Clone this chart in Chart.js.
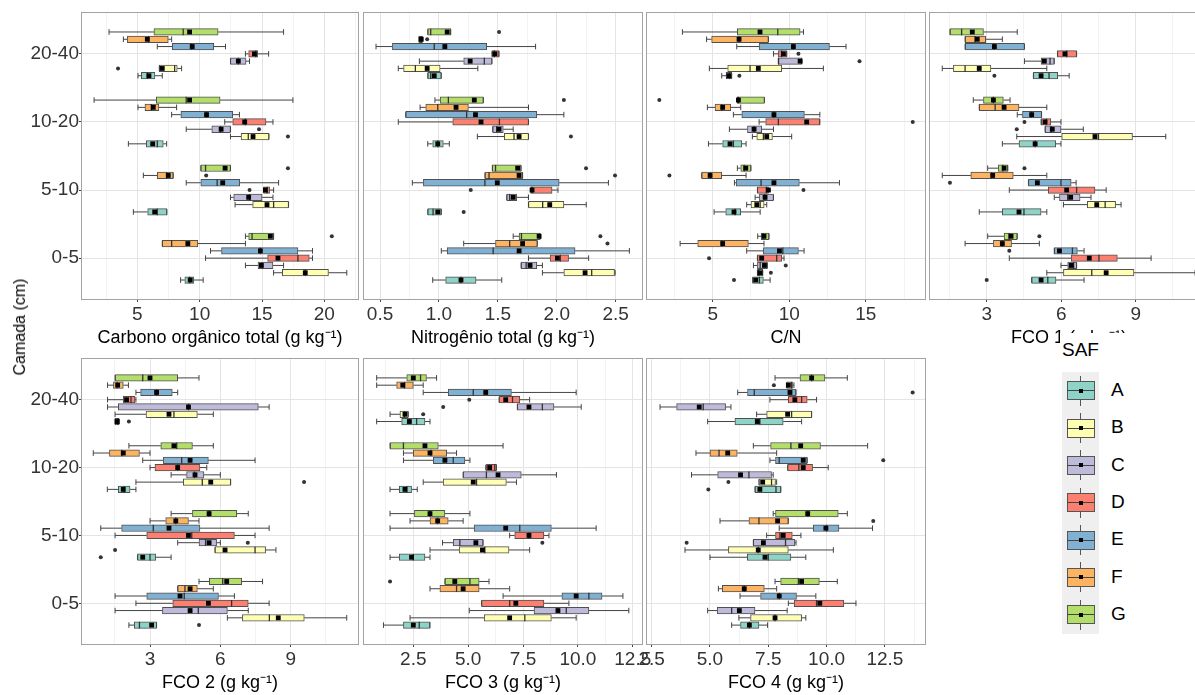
<!DOCTYPE html>
<html lang="pt-br">

<head>
    <meta charset="UTF-8">
    <title>Atributos do solo por SAF e camada</title>
    <script src="https://cdn.jsdelivr.net/npm/chart.js"></script>
    <style>
        body {
            margin: 0;
            width: 1195px;
            height: 695px;
            overflow: hidden;
            position: relative;
            background: #fff;
            font-family: 'Liberation Sans', Arial, sans-serif;
        }

        canvas {
            position: absolute;
        }

        #eixoY {
            position: absolute;
            left: 20px;
            top: 327px;
            transform: translate(-50%, -50%) rotate(-90deg);
            font-size: 16px;
            white-space: nowrap;
            color: #000;
        }

        #legenda {
            position: absolute;
            left: 1060px;
            top: 333px;
            width: 135px;
            height: 304px;
            background: #fff;
        }

        #legenda .titulo {
            position: absolute;
            left: 2px;
            top: 6px;
            font-size: 19px;
        }

        #chaves {
            position: absolute;
            left: 2px;
            top: 39px;
            width: 37px;
            background: #efefef;
        }

        .chave {
            position: relative;
            height: 37.37px;
        }

        .bigode {
            position: absolute;
            left: 18px;
            top: 3.7px;
            width: 1px;
            height: 30px;
            background: #555;
        }

        .caixa {
            position: absolute;
            left: 4.7px;
            top: 9.2px;
            width: 26px;
            height: 17px;
            border: 1px solid #555;
        }

        .mediana {
            position: absolute;
            left: 5px;
            top: 18.2px;
            width: 27px;
            height: 1px;
            background: #444;
        }

        .media {
            position: absolute;
            left: 16.5px;
            top: 16.7px;
            width: 4px;
            height: 4px;
            background: #000;
        }

        .rotulo {
            position: absolute;
            left: 49px;
            top: 7px;
            font-size: 19px;
        }
    </style>
</head>

<body>
    <canvas id="p1"></canvas>
    <canvas id="p2"></canvas>
    <canvas id="p3"></canvas>
    <canvas id="p4"></canvas>
    <canvas id="p5"></canvas>
    <canvas id="p6"></canvas>
    <canvas id="p7"></canvas>
    <div id="eixoY">Camada (cm)</div>
    <div id="legenda">
        <div class="titulo">SAF</div>
        <div id="chaves"></div>
    </div>
</body>
<script>

    const camadas = ['0-5', '5-10', '10-20', '20-40'];
    const saf = ['A', 'B', 'C', 'D', 'E', 'F', 'G'];
    const cores = ['#8DD3C7', '#FFFFB3', '#BEBADA', '#FB8072', '#80B1D3', '#FDB462', '#B3DE69'];

    // cada linha: [min, q1, mediana, q3, max, media] ; camada 0-5, 5-10, 10-20, 20-40 ; SAF A..G
    // atipicos: [camada, saf, valor]

    // Carbono orgânico total
    const cot = [
        [8.47, 8.81, 9.2, 9.53, 10.28, 9.24], [15.93, 16.63, 18.47, 20.33, 21.8, 18.47], [13.67, 14.68, 15.0, 15.88, 16.73, 14.95],
        [10.47, 15.45, 17.88, 18.79, 19.05, 16.28], [10.87, 11.75, 14.87, 17.88, 19.05, 14.87], [7.0, 7.0, 7.75, 9.85, 13.67, 9.05],
        [13.67, 13.93, 14.2, 15.93, 15.93, 15.67],
        [4.68, 5.83, 6.6, 7.37, 7.37, 6.39], [12.84, 14.25, 15.93, 17.13, 17.13, 15.4], [12.47, 12.73, 14.0, 15.0, 15.88, 13.93],
        [15.13, 15.13, 15.4, 15.61, 15.93, 15.27], [8.92, 10.09, 11.4, 13.21, 16.33, 11.85], [5.48, 6.6, 7.35, 7.88, 7.88, 7.48],
        [10.09, 10.09, 10.47, 12.47, 12.47, 12.04],
        [4.28, 5.72, 6.6, 7.08, 7.35, 6.23], [12.47, 13.32, 13.9, 15.56, 15.56, 14.28], [8.92, 10.97, 11.67, 12.47, 12.47, 11.72],
        [12.01, 12.65, 13.67, 15.32, 15.88, 13.61], [7.75, 8.49, 10.55, 12.65, 13.19, 10.55], [5.05, 5.61, 6.12, 6.73, 8.15, 6.28],
        [1.53, 6.52, 8.92, 11.64, 17.48, 9.19],
        [5.05, 5.32, 5.8, 6.41, 7.0, 5.93], [6.76, 6.76, 7.99, 8.2, 8.55, 7.0], [12.47, 12.47, 13.1, 13.72, 14.0, 13.1],
        [13.67, 13.93, 14.5, 14.65, 15.53, 14.39], [6.6, 7.8, 9.35, 11.13, 12.07, 9.4], [3.88, 4.2, 5.9, 7.48, 7.75, 5.8],
        [2.73, 6.33, 8.68, 11.48, 16.73, 9.19]
    ];
    const cotAtip = [[3, 1, 3.45], [2, 2, 14.76], [2, 1, 17.08], [1, 6, 17.08], [1, 5, 10.52], [1, 3, 14.0], [0, 6, 20.6]];

    // Nitrogênio total
    const nt = [
        [0.947, 1.057, 1.187, 1.315, 1.533, 1.187], [1.878, 2.06, 2.296, 2.49, 2.495, 2.24], [1.697, 1.697, 1.74, 1.83, 1.878, 1.773],
        [1.76, 1.943, 2.03, 2.1, 2.27, 2.005], [1.02, 1.07, 1.46, 2.155, 2.616, 1.68], [1.21, 1.48, 1.6, 1.835, 1.835, 1.71],
        [1.63, 1.68, 1.70, 1.86, 1.86, 1.85],
        [0.905, 0.905, 0.95, 1.02, 1.02, 0.99], [1.76, 1.76, 1.88, 2.06, 2.25, 1.94], [1.575, 1.575, 1.6, 1.66, 1.76, 1.63],
        [1.78, 1.78, 1.79, 1.96, 2.01, 1.79], [0.774, 0.868, 1.39, 2.02, 2.438, 1.495], [1.39, 1.39, 1.425, 1.71, 1.71, 1.68],
        [1.453, 1.453, 1.48, 1.697, 1.697, 1.668],
        [0.905, 0.947, 0.99, 1.037, 1.088, 0.99], [1.326, 1.555, 1.637, 1.76, 1.76, 1.68], [1.456, 1.456, 1.49, 1.546, 1.63, 1.51],
        [0.655, 1.117, 1.513, 1.76, 1.76, 1.357], [0.718, 0.718, 1.235, 1.83, 2.06, 1.31], [0.84, 0.888, 0.99, 1.25, 1.76, 1.145],
        [0.966, 1.01, 1.08, 1.377, 1.377, 1.3],
        [0.905, 0.905, 0.93, 1.02, 1.02, 0.96], [0.655, 0.7, 0.8, 1.01, 1.33, 0.9], [0.834, 1.21, 1.385, 1.45, 1.45, 1.265],
        [1.45, 1.45, 1.47, 1.51, 1.51, 1.475], [0.466, 0.605, 0.96, 1.405, 1.82, 1.05], [0.83, 0.83, 0.85, 0.86, 0.86, 0.85],
        [0.905, 0.905, 0.93, 1.1, 1.1, 1.07]
    ];
    const ntAtip = [[3, 6, 1.51], [3, 5, 0.9], [2, 6, 2.06], [2, 1, 2.12], [1, 6, 2.248], [1, 5, 2.494], [1, 3, 1.27], [1, 0, 1.21], [0, 6, 2.37], [0, 5, 2.43]];

    // Relação C/N
    const cn = [
        [7.61, 7.61, 8.05, 8.31, 8.75, 7.81], [7.92, 7.92, 8.0, 8.27, 8.27, 8.09], [7.66, 7.92, 8.1, 8.57, 8.57, 8.38],
        [7.92, 7.92, 9.18, 9.51, 9.66, 8.2], [7.22, 8.31, 9.58, 10.6, 10.97, 9.36], [2.87, 4.02, 5.6, 7.33, 8.35, 5.65],
        [7.94, 8.16, 8.3, 8.68, 8.68, 8.35],
        [5.09, 5.85, 6.46, 6.83, 8.1, 6.39], [7.22, 7.5, 8.1, 8.36, 8.53, 7.88], [7.77, 8.05, 8.4, 8.97, 8.97, 8.42],
        [7.92, 7.92, 8.5, 8.64, 8.64, 8.64], [6.42, 6.53, 8.16, 10.66, 13.28, 9.0], [4.28, 4.28, 4.85, 5.59, 7.18, 4.83],
        [6.61, 6.83, 7.05, 7.5, 7.5, 7.16],
        [4.72, 5.65, 6.35, 6.9, 7.18, 6.13], [7.59, 7.88, 8.31, 8.9, 10.16, 8.53], [6.09, 7.27, 7.7, 8.2, 8.97, 7.7],
        [8.03, 8.46, 9.29, 12.0, 12.0, 11.14], [6.35, 6.9, 9.0, 10.99, 12.0, 9.0], [4.65, 5.15, 5.6, 6.18, 6.83, 5.65],
        [6.61, 6.61, 6.68, 8.38, 8.38, 6.68],
        [5.59, 5.87, 6.1, 6.24, 6.24, 6.05], [4.78, 5.98, 7.44, 9.51, 12.23, 7.98], [9.29, 9.29, 9.3, 10.82, 10.82, 10.71],
        [8.97, 9.29, 9.5, 9.84, 9.84, 9.62], [6.57, 8.03, 10.27, 12.63, 13.71, 10.27], [4.6, 4.93, 6.72, 8.64, 8.64, 6.72],
        [3.02, 6.61, 9.25, 10.71, 10.93, 8.09]
    ];
    const cnAtip = [[3, 3, 10.6], [3, 2, 14.59], [3, 0, 6.74], [2, 6, 1.51], [2, 3, 18.07], [1, 5, 2.17], [1, 3, 10.93], [0, 3, 4.76], [0, 2, 9.77], [0, 1, 8.8], [0, 0, 6.39]];

    // FCO 1
    const fco1 = [
        [4.81, 4.81, 5.46, 5.79, 6.92, 5.19], [5.42, 6.09, 7.23, 8.93, 11.39, 7.81], [5.99, 6.26, 6.5, 6.62, 6.62, 6.4],
        [3.91, 6.4, 7.52, 8.26, 9.62, 7.13], [5.72, 5.72, 6.45, 6.65, 6.92, 5.93], [2.13, 3.27, 3.63, 4.0, 5.12, 3.63],
        [3.04, 3.7, 3.9, 4.23, 4.23, 3.98],
        [2.7, 3.63, 4.5, 5.19, 5.42, 4.3], [6.09, 7.05, 7.77, 8.19, 8.41, 7.43], [5.72, 5.93, 6.26, 6.76, 7.2, 6.38],
        [3.91, 5.48, 6.62, 7.36, 7.81, 6.22], [4.68, 4.68, 5.99, 6.4, 6.6, 5.04], [1.21, 2.36, 3.2, 4.07, 5.42, 3.24],
        [3.04, 3.47, 3.65, 3.85, 3.85, 3.7],
        [3.63, 4.3, 4.95, 5.78, 5.99, 4.95], [4.21, 6.02, 7.5, 8.87, 10.21, 7.36], [5.35, 5.35, 5.6, 5.99, 6.89, 5.64],
        [5.19, 5.19, 5.4, 5.58, 5.99, 5.35], [4.23, 4.44, 4.8, 5.21, 5.21, 4.81], [2.7, 2.7, 3.34, 4.3, 5.42, 3.7],
        [2.46, 2.87, 3.27, 3.67, 3.94, 3.27],
        [4.88, 4.88, 5.51, 5.86, 6.32, 5.19], [1.21, 1.66, 2.13, 3.17, 5.42, 2.7], [4.52, 5.19, 5.55, 5.72, 5.72, 5.32],
        [5.85, 5.85, 6.22, 6.62, 6.62, 6.15], [2.13, 2.13, 3.3, 4.52, 4.52, 3.31], [2.13, 2.13, 2.53, 2.96, 3.63, 2.62],
        [1.52, 1.52, 1.99, 2.87, 4.23, 2.42]
    ];
    const fco1Atip = [[3, 0, 3.31], [2, 3, 4.52], [2, 2, 4.21], [1, 6, 4.52], [1, 4, 1.52], [0, 6, 5.12], [0, 4, 3.91], [0, 0, 3.0]];

    // FCO 2
    const fco2 = [
        [2.1, 2.33, 2.55, 3.28, 3.28, 3.07], [6.3, 6.94, 8.09, 9.58, 11.39, 8.47], [1.51, 3.53, 5.06, 6.3, 7.19, 4.71],
        [2.4, 3.97, 6.48, 7.19, 8.08, 5.49], [1.51, 2.86, 4.46, 5.92, 6.6, 4.28], [4.18, 4.18, 4.49, 5.02, 5.7, 4.71],
        [5.09, 5.53, 6.1, 6.91, 7.8, 6.27],
        [2.47, 2.47, 3.0, 3.24, 3.9, 2.69], [5.77, 5.77, 7.48, 7.93, 8.37, 6.2], [4.18, 5.09, 5.37, 5.84, 6.0, 5.52],
        [1.51, 2.86, 4.78, 6.6, 7.48, 4.64], [0.9, 1.79, 3.14, 5.13, 8.08, 3.81], [3.0, 3.67, 4.1, 4.64, 5.09, 4.1],
        [3.9, 4.81, 5.52, 6.7, 7.19, 5.52],
        [1.18, 1.65, 1.9, 2.15, 2.4, 1.86], [2.4, 4.42, 5.23, 6.44, 6.44, 5.59], [3.9, 4.56, 4.9, 5.3, 6.0, 4.92],
        [3.0, 3.21, 4.18, 5.13, 5.42, 4.18], [2.69, 3.57, 4.35, 5.49, 7.48, 4.71], [0.58, 1.27, 1.8, 2.55, 3.0, 1.86],
        [2.1, 3.46, 4.14, 4.81, 5.7, 4.02],
        [1.51, 1.51, 1.62, 1.68, 1.68, 1.6], [1.51, 2.83, 4.02, 5.02, 5.7, 3.81], [1.19, 1.65, 4.64, 7.62, 8.08, 4.64],
        [1.19, 1.86, 2.19, 2.36, 2.4, 2.0], [2.4, 2.6, 3.28, 3.95, 4.18, 3.28], [1.19, 1.44, 1.6, 1.86, 2.08, 1.62],
        [1.51, 1.51, 2.69, 4.18, 5.09, 3.0]
    ];
    const fco2Atip = [[3, 0, 2.1], [2, 1, 9.57], [1, 2, 7.17], [1, 1, 1.51], [1, 0, 0.9], [0, 0, 5.09]];

    // FCO 3
    const fco3 = [
        [1.14, 2.05, 2.77, 3.26, 3.26, 2.5], [2.35, 5.73, 7.58, 8.79, 9.92, 6.89], [5.05, 8.0, 9.47, 10.5, 12.32, 9.09],
        [5.61, 5.61, 6.89, 8.45, 9.59, 7.17], [6.59, 9.27, 10.5, 11.1, 12.05, 9.92], [3.26, 3.71, 4.47, 5.5, 6.89, 4.77],
        [3.94, 3.94, 5.08, 5.5, 5.95, 4.39],
        [1.44, 1.86, 2.5, 3.03, 3.26, 2.42], [3.26, 4.59, 5.76, 6.86, 7.8, 5.65], [3.83, 4.32, 4.62, 5.68, 5.68, 5.35],
        [6.89, 7.12, 7.77, 8.45, 8.68, 7.77], [1.44, 5.27, 7.35, 8.79, 10.83, 6.71], [2.35, 3.26, 3.6, 4.09, 4.77, 3.61],
        [1.44, 2.55, 3.26, 3.94, 5.08, 3.26],
        [1.44, 1.86, 2.2, 2.42, 2.68, 2.12], [2.95, 3.86, 5.38, 6.74, 7.2, 5.23], [4.77, 4.77, 5.83, 7.42, 9.02, 6.36],
        [5.8, 5.83, 6.21, 6.29, 6.29, 5.98], [2.05, 3.41, 4.32, 4.85, 5.08, 3.94], [2.05, 2.5, 3.3, 4.02, 4.47, 3.26],
        [1.44, 1.44, 2.05, 3.64, 6.59, 3.03],
        [0.83, 1.97, 2.65, 3.03, 3.26, 2.32], [1.44, 1.89, 2.1, 2.27, 2.27, 2.12], [7.24, 7.24, 8.38, 8.91, 10.15, 7.77],
        [6.41, 6.41, 7.02, 7.35, 7.8, 6.71], [2.95, 4.09, 5.23, 6.97, 9.92, 5.8], [0.83, 1.74, 2.1, 2.5, 2.95, 2.02],
        [0.83, 2.2, 2.83, 3.1, 3.56, 2.5]
    ];
    const fco3Atip = [[3, 3, 5.05], [3, 2, 3.86], [3, 1, 2.95], [1, 2, 8.38], [0, 6, 1.44]];

    // FCO 4
    const fco4 = [
        [5.93, 6.31, 6.69, 7.1, 7.47, 6.69], [6.24, 6.74, 7.79, 8.93, 9.11, 7.79], [4.9, 5.31, 5.93, 6.93, 8.31, 6.26],
        [8.36, 8.61, 9.57, 10.74, 11.26, 9.71], [6.29, 7.17, 7.97, 8.71, 9.54, 7.97], [5.36, 5.53, 6.47, 7.33, 7.86, 6.47],
        [7.79, 8.03, 8.79, 9.69, 10.46, 8.93],
        [5.0, 6.6, 7.5, 8.47, 9.11, 7.36], [3.93, 5.79, 7.07, 8.36, 10.29, 7.07], [6.86, 6.86, 8.24, 8.64, 8.69, 7.29],
        [7.43, 7.81, 8.0, 8.53, 8.9, 8.14], [7.97, 9.43, 10.0, 10.53, 11.97, 9.97], [5.43, 6.67, 7.1, 8.36, 8.36, 7.9],
        [7.71, 7.81, 9.2, 10.5, 10.89, 9.19],
        [6.93, 6.93, 7.83, 8.04, 8.04, 7.14], [7.1, 7.1, 7.64, 7.81, 7.86, 7.26], [4.21, 5.33, 6.67, 7.64, 7.71, 6.31],
        [8.33, 8.33, 8.81, 9.4, 10.07, 9.0], [7.57, 7.81, 7.97, 9.17, 9.17, 9.0], [4.4, 5.0, 5.39, 6.17, 7.86, 5.76],
        [6.86, 7.6, 8.47, 9.74, 11.76, 8.89],
        [4.9, 6.07, 7.14, 8.14, 8.93, 7.03], [7.0, 7.43, 8.5, 9.36, 9.36, 8.33], [2.86, 3.57, 4.71, 5.67, 5.9, 4.54],
        [7.57, 8.36, 8.93, 9.17, 9.57, 8.64], [6.19, 6.61, 6.9, 8.69, 8.69, 8.43], [8.29, 8.29, 8.5, 8.54, 8.6, 8.36],
        [7.79, 8.86, 9.36, 9.93, 10.89, 9.36]
    ];
    const fco4Atip = [[3, 5, 7.74], [3, 4, 13.69], [2, 4, 12.43], [2, 1, 5.79], [2, 0, 4.93], [1, 5, 12.0], [1, 2, 4.0]];

    // paineis: posição da área do gráfico na página e eixo x
    const paineis = [
        { id: 'p1', dados: cot, atip: cotAtip, titulo: 'Carbono orgânico total (g kg⁻¹)', min: 0.56, max: 22.7, passo: 5, dec: 0, x: 82, w: 276, linha: 0 },
        { id: 'p2', dados: nt, atip: ntAtip, titulo: 'Nitrogênio total (g kg⁻¹)', min: 0.364, max: 2.723, passo: 0.5, dec: 1, x: 364, w: 278, linha: 0 },
        { id: 'p3', dados: cn, atip: cnAtip, titulo: 'C/N', min: 0.706, max: 18.87, passo: 5, dec: 0, x: 647, w: 278, linha: 0 },
        { id: 'p4', dados: fco1, atip: fco1Atip, titulo: 'FCO 1 (g kg⁻¹)', min: 0.717, max: 11.91, passo: 3, dec: 0, x: 930, w: 278, linha: 0 },
        { id: 'p5', dados: fco2, atip: fco2Atip, titulo: 'FCO 2 (g kg⁻¹)', min: 0.1, max: 11.87, passo: 3, dec: 0, x: 82, w: 276, linha: 1 },
        { id: 'p6', dados: fco3, atip: fco3Atip, titulo: 'FCO 3 (g kg⁻¹)', min: 0.253, max: 12.92, passo: 2.5, dec: 1, x: 364, w: 278, linha: 1 },
        { id: 'p7', dados: fco4, atip: fco4Atip, titulo: 'FCO 4 (g kg⁻¹)', min: 2.3, max: 14.22, passo: 2.5, dec: 1, x: 647, w: 278, linha: 1 }
    ];

    const DESLOC = 0.75 / 7;
    Chart.defaults.font.family = "'Liberation Sans', Arial, sans-serif";

    const moldura = {
        id: 'moldura',
        afterDraw(chart) {
            const a = chart.chartArea;
            const ctx = chart.ctx;
            ctx.save();
            ctx.strokeStyle = '#a3a3a3';
            ctx.lineWidth = 1;
            ctx.strokeRect(a.left - 0.5, a.top - 0.5, a.right - a.left + 1, a.bottom - a.top + 1);
            ctx.restore();
        }
    };

    function marcasX(min, max, passo) {
        const meio = passo / 2;
        let lista = [];
        for (let v = Math.ceil(min / meio - 1e-9) * meio; v <= max + 1e-9; v += meio) {
            lista.push(Math.round(v * 1000) / 1000);
        }
        return lista;
    }

    function ehMaior(v, passo) {
        return Math.abs(v / passo - Math.round(v / passo)) < 1e-6;
    }

    function posicao(c, g) {
        return c + 1 + (g - 3) * DESLOC;
    }

    function desenharPainel(p) {
        let caixas = [], corCaixa = [], bigodes = [], tampas = [], medianas = [], medias = [], pontos = [];

        for (let k = 0; k < p.dados.length; k++) {
            const d = p.dados[k];
            const c = Math.floor(k / saf.length);
            const g = k % saf.length;
            const y = posicao(c, g);
            caixas.push({ x: [d[1], d[3]], y: y });
            corCaixa.push(cores[g]);
            bigodes.push({ x: d[0], y: y }, { x: d[1], y: y }, { x: null, y: null },
                { x: d[3], y: y }, { x: d[4], y: y }, { x: null, y: null });
            tampas.push({ x: d[0], y: y }, { x: d[4], y: y });
            medianas.push({ x: d[2], y: y });
            medias.push({ x: d[5], y: y });
        }
        for (const a of p.atip) {
            pontos.push({ x: a[2], y: posicao(a[0], a[1]) });
        }

        const eixoY = p.x < 100;
        const larguraY = eixoY ? 82 : 0;
        const margem = eixoY ? 0 : 15;
        const canvas = document.getElementById(p.id);
        canvas.width = margem + larguraY + p.w + 15;
        canvas.height = p.linha === 0 ? 350 : 349;
        canvas.style.left = (p.x - larguraY - margem) + 'px';
        canvas.style.top = (p.linha === 0 ? 0 : 346) + 'px';

        const ticksX = marcasX(p.min, p.max, p.passo);

        new Chart(canvas, {
            type: 'bar',
            data: {
                datasets: [
                    { type: 'line', data: medias, showLine: false, pointStyle: 'rect', pointRadius: 3.4, pointBackgroundColor: '#000', pointBorderWidth: 0, order: 0 },
                    { type: 'line', data: pontos, showLine: false, pointStyle: 'circle', pointRadius: 2, pointBackgroundColor: '#333', pointBorderWidth: 0, order: 1 },
                    { type: 'line', data: medianas, showLine: false, pointStyle: 'line', pointRotation: 90, pointRadius: 3.3, pointBorderColor: '#333', pointBorderWidth: 1.3, order: 2 },
                    { type: 'line', data: tampas, showLine: false, pointStyle: 'line', pointRotation: 90, pointRadius: 2.8, pointBorderColor: '#444', pointBorderWidth: 1, order: 3 },
                    { type: 'bar', data: caixas, backgroundColor: corCaixa, borderColor: '#505050', borderWidth: 1, borderSkipped: false, barThickness: 6.6, order: 4 },
                    { type: 'line', data: bigodes, pointRadius: 0, borderColor: '#444', borderWidth: 1, spanGaps: false, order: 5 }
                ]
            },
            options: {
                indexAxis: 'y',
                responsive: false,
                animation: false,
                events: [],
                layout: { padding: { top: 13, left: margem, right: 15, bottom: 0 } },
                plugins: {
                    legend: { display: false },
                    tooltip: { enabled: false }
                },
                scales: {
                    x: {
                        type: 'linear',
                        min: p.min,
                        max: p.max,
                        offset: false,
                        afterBuildTicks: function (s) { s.ticks = ticksX.map(function (v) { return { value: v }; }); },
                        afterFit: function (s) { s.height = 51; },
                        border: { display: false },
                        grid: {
                            color: function (ctx) { return ctx.tick && ehMaior(ctx.tick.value, p.passo) ? '#e4e4e4' : '#f3f3f3'; },
                            tickColor: function (ctx) { return ctx.tick && ehMaior(ctx.tick.value, p.passo) ? '#444' : 'rgba(0,0,0,0)'; },
                            tickLength: 3,
                            lineWidth: 1
                        },
                        ticks: {
                            autoSkip: false,
                            maxRotation: 0,
                            padding: 1,
                            color: '#333',
                            font: { size: 19 },
                            callback: function (v) { return ehMaior(v, p.passo) ? v.toFixed(p.dec) : ''; }
                        },
                        title: {
                            display: true,
                            text: p.titulo,
                            color: '#000',
                            font: { size: 18 },
                            padding: { top: 0, bottom: 1 }
                        }
                    },
                    y: {
                        type: 'linear',
                        min: 0.4,
                        max: 4.6,
                        offset: false,
                        afterBuildTicks: function (s) { s.ticks = [1, 2, 3, 4].map(function (v) { return { value: v }; }); },
                        afterFit: function (s) { s.width = larguraY; },
                        border: { display: false },
                        grid: {
                            offset: false,
                            color: '#e4e4e4',
                            drawTicks: eixoY,
                            tickLength: 3,
                            tickColor: '#444'
                        },
                        ticks: {
                            display: eixoY,
                            padding: 0,
                            color: '#333',
                            font: { size: 19 },
                            callback: function (v) { return camadas[v - 1]; }
                        }
                    }
                }
            },
            plugins: [moldura]
        });
    }

    paineis.forEach(desenharPainel);

    // legenda SAF
    const chaves = document.getElementById('chaves');
    for (let i = 0; i < saf.length; i++) {
        chaves.insertAdjacentHTML('beforeend',
            `<div class="chave"><span class="bigode"></span><span class="caixa" style="background:${cores[i]}"></span>` +
            `<span class="mediana"></span><span class="media"></span><span class="rotulo">${saf[i]}</span></div>`);
    }
</script>

</html>
